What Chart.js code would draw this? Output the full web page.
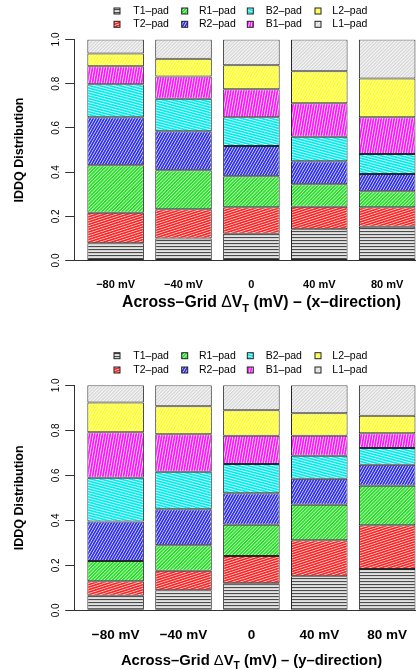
<!DOCTYPE html>
<html><head><meta charset="utf-8">
<script src="https://cdn.jsdelivr.net/npm/chart.js@4.4.0/dist/chart.umd.min.js"></script>
<style>
html,body{margin:0;padding:0;background:#fff;overflow:hidden;width:416px;height:670px;position:relative;}
.wrap{position:absolute;left:0;width:432px;height:335px;}
canvas{display:block;}
</style></head><body>
<div class="wrap" style="top:0"><canvas id="c1" width="432" height="335"></canvas></div>
<div class="wrap" style="top:335px"><canvas id="c2" width="432" height="335"></canvas></div>
<script>
// ---------- data ----------
const categories = ['\u221280 mV', '\u221240 mV', '0', '40 mV', '80 mV'];
const seriesNames = ['T1\u2013pad', 'T2\u2013pad', 'R1\u2013pad', 'R2\u2013pad', 'B2\u2013pad', 'B1\u2013pad', 'L2\u2013pad', 'L1\u2013pad'];
const yTicks = [0, 0.2, 0.4, 0.6, 0.8, 1.0];

// x-direction panel
const xdir_T1 = [0.078, 0.100, 0.121, 0.141, 0.153];
const xdir_T2 = [0.138, 0.132, 0.120, 0.102, 0.088];
const xdir_R1 = [0.215, 0.176, 0.140, 0.102, 0.072];
const xdir_R2 = [0.217, 0.177, 0.137, 0.104, 0.078];
const xdir_B2 = [0.149, 0.147, 0.130, 0.111, 0.091];
const xdir_B1 = [0.082, 0.101, 0.127, 0.151, 0.166];
const xdir_L2 = [0.058, 0.080, 0.108, 0.145, 0.175];
const xdir_L1 = [0.063, 0.087, 0.117, 0.144, 0.177];

// y-direction panel
const ydir_T1 = [0.065, 0.089, 0.120, 0.151, 0.184];
const ydir_T2 = [0.064, 0.087, 0.121, 0.160, 0.194];
const ydir_R1 = [0.090, 0.113, 0.139, 0.158, 0.176];
const ydir_R2 = [0.176, 0.160, 0.140, 0.116, 0.093];
const ydir_B2 = [0.194, 0.167, 0.130, 0.102, 0.074];
const ydir_B1 = [0.202, 0.166, 0.126, 0.089, 0.066];
const ydir_L2 = [0.133, 0.125, 0.113, 0.100, 0.078];
const ydir_L1 = [0.076, 0.093, 0.111, 0.124, 0.135];

const xTitleX = {pre: 'Across\u2013Grid ', post: ' (mV) \u2013 (x\u2013direction)'};
const xTitleY = {pre: 'Across\u2013Grid ', post: ' (mV) \u2013 (y\u2013direction)'};

// ---------- styles ----------
const FAM = '"Liberation Sans", Arial, Helvetica, sans-serif';
Chart.defaults.font.family = FAM;
Chart.defaults.color = '#000';

function makePattern(bg, fg, angle, period, lw, scale) {
  const t = document.createElement('canvas');
  t.width = 16; t.height = period;
  const g = t.getContext('2d');
  g.fillStyle = bg; g.fillRect(0, 0, 16, period);
  g.fillStyle = fg; g.fillRect(0, 0, 16, lw);
  const p = g.createPattern(t, 'repeat');
  p.setTransform(new DOMMatrix().rotateSelf(angle).scaleSelf(scale, scale));
  return p;
}
const patterns = [
  makePattern('#e4e4e4', '#4a4a4a', 0, 3, 1.1, 1),       // T1 gray horizontal
  makePattern('#ffd0d0', '#ff2424', -18, 3, 2, 0.8),     // T2 red
  makePattern('#d0fad0', '#22e022', -45, 3, 2, 0.8),     // R1 green
  makePattern('#d0d0ff', '#3030e8', -60, 3, 2, 0.8),     // R2 blue
  makePattern('#e0ffff', '#00eeee', 15, 3, 2, 0.85),     // B2 cyan
  makePattern('#ffdcff', '#ff18ff', -80, 3, 2, 0.85),    // B1 magenta
  makePattern('#ffffe0', '#ffff20', -60, 3, 2.1, 0.8),   // L2 yellow
  makePattern('#f8f8f8', '#d2d2d2', -45, 3, 1.5, 0.8)    // L1 light gray
];

// ---------- plugins ----------
const rLegend = {
  id: 'rLegend',
  afterDraw(chart, args, o) {
    const ctx = chart.ctx;
    ctx.save();
    ctx.font = o.fontSize + 'px ' + FAM;
    ctx.textBaseline = 'middle';
    ctx.textAlign = 'left';
    chart.data.datasets.forEach((ds, k) => {
      const col = Math.floor(k / 2), row = k % 2;
      const bx = o.boxX[col], by = o.rowY[row], b = o.box;
      ctx.fillStyle = ds.backgroundColor;
      ctx.fillRect(bx - b / 2, by - b / 2, b, b);
      ctx.strokeStyle = '#222'; ctx.lineWidth = 1;
      ctx.strokeRect(bx - b / 2, by - b / 2, b, b);
      ctx.fillStyle = '#000';
      ctx.fillText(ds.label, o.textX[col], by);
    });
    ctx.restore();
  }
};

const xTitlePlugin = {
  id: 'xTitle',
  afterDraw(chart, args, o) {
    const ctx = chart.ctx;
    const s = o.size;
    const parts = [
      {t: o.pre, f: 'bold ' + s + 'px ' + FAM, dy: 0},
      {t: '\u0394', f: s + 'px ' + FAM, dy: 0},
      {t: 'V', f: 'bold ' + s + 'px ' + FAM, dy: 0},
      {t: 'T', f: 'bold ' + (s * 0.7) + 'px ' + FAM, dy: s * 0.28},
      {t: o.post, f: 'bold ' + s + 'px ' + FAM, dy: 0}
    ];
    ctx.save();
    ctx.textBaseline = 'alphabetic';
    ctx.textAlign = 'left';
    ctx.fillStyle = '#000';
    let total = 0;
    parts.forEach(p => { ctx.font = p.f; p.w = ctx.measureText(p.t).width; total += p.w; });
    let x = o.cx - total / 2;
    const base = o.cy + s * 0.36;
    parts.forEach(p => { ctx.font = p.f; ctx.fillText(p.t, x, base + p.dy); x += p.w; });
    ctx.restore();
  }
};

// ---------- chart builder ----------
function buildChart(id, seriesData, cfg) {
  const datasets = seriesNames.map((name, k) => ({
    label: name,
    data: seriesData[k].map((v, i) => ({x: i, y: v})),
    backgroundColor: patterns[k],
    borderColor: '#262626',
    borderWidth: 1,
    borderSkipped: false,
    categoryPercentage: 1,
    barPercentage: 1 / 1.2
  }));
  return new Chart(document.getElementById(id), {
    type: 'bar',
    data: {datasets},
    options: {
      responsive: false,
      animation: false,
      devicePixelRatio: 1,
      layout: {padding: {top: cfg.top, bottom: cfg.bottomPad, left: 0, right: cfg.right}},
      plugins: {
        legend: {display: false},
        tooltip: {enabled: false},
        rLegend: cfg.legend,
        xTitle: cfg.xTitle
      },
      scales: {
        x: {
          type: 'linear', min: -0.61, max: 4.61, offset: false, stacked: true,
          grid: {display: false, drawTicks: false, offset: false},
          border: {display: true, color: '#333', width: 1},
          afterBuildTicks: s => { s.ticks = categories.map((c, i) => ({value: i})); },
          afterFit: s => { s.height = cfg.xAxisH; },
          ticks: {
            callback: v => categories[v],
            font: {size: cfg.xLabelSize, weight: 'bold'},
            color: '#000', padding: cfg.xLabelPad, maxRotation: 0, minRotation: 0, autoSkip: false
          }
        },
        y: {
          type: 'linear', min: 0, max: 1, stacked: true,
          afterBuildTicks: s => { s.ticks = yTicks.map(v => ({value: v})); },
          afterFit: s => { s.width = cfg.yAxisW; },
          grid: {display: true, drawOnChartArea: false, drawTicks: true, tickLength: 9, color: '#333'},
          border: {display: true, color: '#333'},
          ticks: {
            callback: v => v.toFixed(1), minRotation: 90, maxRotation: 90, crossAlign: 'center',
            padding: 2, font: {size: 10}, color: '#000'
          },
          title: {display: true, text: 'IDDQ Distribution', font: {size: 12.5, weight: 'bold'}, color: '#000', padding: {top: 12, bottom: 0}}
        }
      }
    },
    plugins: [rLegend, xTitlePlugin]
  });
}

buildChart('c1',
  [xdir_T1, xdir_T2, xdir_R1, xdir_R2, xdir_B2, xdir_B1, xdir_L2, xdir_L1],
  {
    top: 39.5, bottomPad: 14.5, right: 3.4, xAxisH: 60, yAxisW: 74.2,
    xLabelSize: 11, xLabelPad: 17.9,
    legend: {fontSize: 10.5, box: 6, boxX: [117, 184.7, 250.3, 318], textX: [133.3, 199, 265.7, 332.3], rowY: [11, 24.3]},
    xTitle: Object.assign({size: 15.8, cx: 261.5, cy: 301.7}, xTitleX)
  });

buildChart('c2',
  [ydir_T1, ydir_T2, ydir_R1, ydir_R2, ydir_B2, ydir_B1, ydir_L2, ydir_L1],
  {
    top: 50.3, bottomPad: 14.7, right: 3.4, xAxisH: 45, yAxisW: 74.2,
    xLabelSize: 13.5, xLabelPad: 16.6,
    legend: {fontSize: 10.5, box: 6, boxX: [117, 184.7, 250.3, 318], textX: [133.3, 199, 265.7, 332.3], rowY: [20.7, 35]},
    xTitle: Object.assign({size: 14.8, cx: 251.5, cy: 325}, xTitleY)
  });
</script>
</body></html>
